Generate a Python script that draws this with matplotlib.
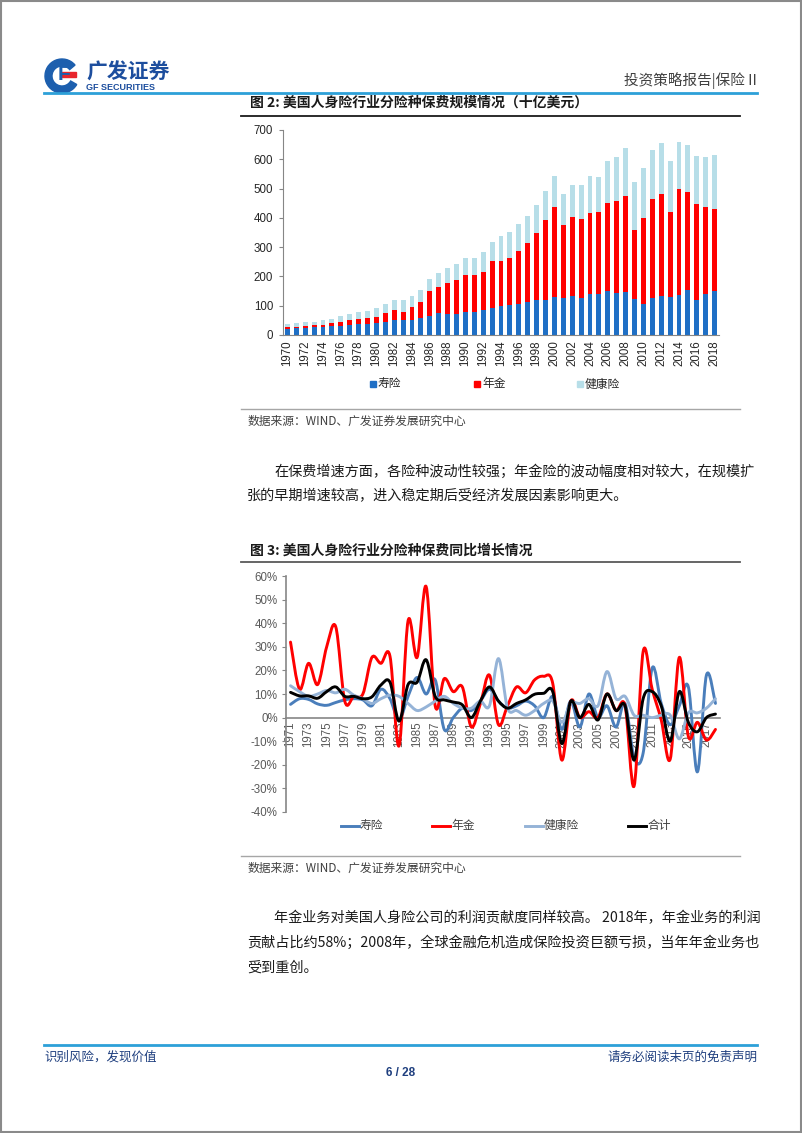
import numpy as np
import matplotlib
matplotlib.use('Agg')
import matplotlib.pyplot as plt
from matplotlib.path import Path
from matplotlib.patches import PathPatch, Rectangle, Wedge
from matplotlib.lines import Line2D

plt.rcParams['font.family'] = ['Noto Sans CJK SC', 'DejaVu Sans']

# ---- data: chart 1 (billion USD) ----
bar_years = list(range(1970, 2019))
life = [22, 23, 25, 26, 28, 30, 32, 34, 36, 38,
        40, 45, 50, 50, 52, 57, 66, 76, 72, 73,
        77, 78, 84, 93, 99, 102, 107, 114, 119, 120,
        131, 125, 133, 127, 139, 140, 149, 142, 147, 124,
        106, 127, 134, 130, 137, 155, 120, 140, 149]
annuity = [5, 6, 6, 7, 7, 10, 13, 16, 18, 20,
           23, 29, 35, 30, 42, 56, 84, 89, 105, 115,
           128, 126, 132, 158, 152, 160, 180, 199, 231, 272,
           307, 252, 271, 270, 278, 280, 303, 315, 329, 234,
           293, 336, 349, 289, 363, 334, 327, 296, 281]
health = [10, 11, 12, 13, 15, 16, 19, 20, 23, 25,
          28, 31, 35, 38, 39, 42, 42, 47, 51, 55,
          59, 59, 66, 68, 87, 88, 93, 92, 93, 98,
          105, 103, 108, 115, 126, 118, 141, 150, 164, 164,
          171, 170, 173, 174, 158, 159, 163, 171, 184]
bar_labels = ['寿险', '年金', '健康险']

# ---- data: chart 2 (yoy growth, %) ----
line_years = list(range(1971, 2019))
life_g = [5.6, 8, 7.7, 5.8, 5.2, 6.4, 7.5, 8, 7.5, 5,
          12, 8, -1, 9, 17, 10, 16, -5, 0, 4,
          3, 7, 12, 7, 4, 5, 7, 5, 0, 9,
          -5, 7, -4, 10, 0, 5, -4, 6, -17, -15,
          21, 6, -3, 5, 13, -23, 18, 6]
annuity_g = [32, 12, 23, 14, 30, 38.5, 7, 9, 10, 25.5,
             23, 26, -12, 41, 25.5, 55.5, 5, 16.5, 11, 13,
             -4, 6, 18, -3, 5, 13, 10.5, 16, 17.5, 14.5,
             -18, 7, 0, 2.5, 0, 10, 3, 5, -29, 28,
             12, -1, -17.5, 25.5, -8, -2, -9.5, -5]
health_g = [13.5, 11, 9, 10, 11.5, 10.5, 12, 9.5, 8, 6,
            8, 9.5, 9, 6, 3, 4.5, 7, 9, 6, 4,
            4, 7, 5, 25, 4, 3, 1, 3, 6, 7,
            -2, 6, 6, 8, 5, 19.5, 8, 9, 1, 1,
            0, 1, 1, -9, 2, 2, 4, 8]
total_g = [10.7, 9.2, 9.2, 8.2, 11, 13, 9, 9, 8, 8.8,
           13.8, 15, -1.5, 14, 15, 24.5, 9, 7.5, 6.6, 5.4,
           0, 7, 13, 7, 4, 6, 7.5, 9.9, 10.3, 11,
           -11, 7, 0, 5.6, -1, 10, 3, 5, -18, 8,
           11, 5, -10, 11, -2, -6, 0, 1.5]
line_labels = ['寿险', '年金', '健康险', '合计']

W, H = 802, 1133


def fx(x):
    return x / W


def fy(y):
    return 1 - y / H


def smooth_path(xs, ys):
    # excel-like smoothed line: catmull-rom as cubic bezier
    pts = np.column_stack([xs, ys]).astype(float)
    n = len(pts)
    verts = [pts[0]]
    codes = [Path.MOVETO]
    for i in range(n - 1):
        p0 = pts[i - 1] if i > 0 else pts[i]
        p1, p2 = pts[i], pts[i + 1]
        p3 = pts[i + 2] if i + 2 < n else pts[i + 1]
        verts += [p1 + (p2 - p0) / 6, p2 - (p3 - p1) / 6, p2]
        codes += [Path.CURVE4] * 3
    return Path(verts, codes)


fig = plt.figure(figsize=(8.02, 11.33), dpi=100)
fig.patch.set_facecolor('white')

# page border
fig.add_artist(Rectangle((0.001, 0.001), 0.998, 0.998, transform=fig.transFigure,
                         fill=False, ec='#8a8a8a', lw=1.5))


def hline(y, x0, x1, color, lw):
    fig.add_artist(Line2D([fx(x0), fx(x1)], [fy(y), fy(y)], color=color, lw=lw,
                          transform=fig.transFigure))


def txt(x, y, s, **kw):
    fig.text(fx(x), fy(y), s, **kw)


# ---- header ----
ax_logo = fig.add_axes([fx(43), fy(94), 38 / W, 38 / H])
ax_logo.set_xlim(0, 38)
ax_logo.set_ylim(0, 38)
ax_logo.axis('off')
ax_logo.add_patch(Wedge((19, 18), 17, 40, 330, width=7, color='#1d5fae'))
ax_logo.add_patch(Rectangle((19, 17), 14, 5, color='#e8262d'))
ax_logo.text(21, 20, 'F', fontsize=15, fontweight='bold', color='#1d5fae',
             ha='center', va='center', family='Liberation Sans')
txt(86, 72, '广发证券', fontsize=15, fontweight='bold', color='#1d4e9e', va='center')
txt(86, 88, 'GF SECURITIES', fontsize=6.5, fontweight='bold', color='#1d4e9e',
    va='center', family='Liberation Sans')
txt(757, 81, '投资策略报告|保险 II', fontsize=10.5, color='#404040', ha='right', va='center')
hline(93, 44, 757, '#2da0d8', 2)

# ---- figure 2 title ----
txt(250, 103, '图 2: 美国人身险行业分险种保费规模情况（十亿美元）', fontsize=10,
    fontweight='bold', color='#1a1a1a', va='center')
hline(116, 241, 740, '#1a1a1a', 1.3)

# ---- bar chart ----
ax1 = fig.add_axes([fx(283), fy(335), (719 - 283) / W, (335 - 130) / H])
idx = np.arange(len(bar_years))
life_a = np.array(life)
ann_a = np.array(annuity)
hea_a = np.array(health)
bar_colors = ['#1f6fc5', '#ff0000', '#b7dee8']
ax1.bar(idx, life_a, width=0.55, color=bar_colors[0])
ax1.bar(idx, ann_a, width=0.55, bottom=life_a, color=bar_colors[1])
ax1.bar(idx, hea_a, width=0.55, bottom=life_a + ann_a, color=bar_colors[2])
ax1.set_xlim(-0.5, len(bar_years) - 0.5)
ax1.set_ylim(0, 700)
ax1.set_yticks(range(0, 701, 100))
ax1.set_xticks(idx[::2])
ax1.set_xticklabels([str(y) for y in bar_years[::2]], rotation=90)
ax1.tick_params(axis='both', labelsize=8.3, labelcolor='#262626', labelfontfamily='Liberation Sans')
ax1.tick_params(axis='x', length=0, pad=4)
ax1.tick_params(axis='y', length=3, color='#868686', pad=4)
for s in ['top', 'right']:
    ax1.spines[s].set_visible(False)
for s in ['left', 'bottom']:
    ax1.spines[s].set_color('#868686')

# bar legend
for (x, lab, c) in [(370, bar_labels[0], bar_colors[0]), (474, bar_labels[1], bar_colors[1]),
                    (577, bar_labels[2], bar_colors[2])]:
    fig.add_artist(Rectangle((fx(x), fy(387)), 6 / W, 6 / H, color=c, transform=fig.transFigure))
    txt(x + 8, 384, lab, fontsize=8.5, color='#262626', va='center')

hline(409, 241, 740, '#a6a6a6', 1)
txt(248, 421, '数据来源：WIND、广发证券发展研究中心', fontsize=8.5, color='#404040', va='center')

# ---- paragraph 1 ----
body = dict(fontsize=10.2, color='#1a1a1a', va='center')
txt(274, 472, '在保费增速方面，各险种波动性较强；年金险的波动幅度相对较大，在规模扩', **body)
txt(247, 496, '张的早期增速较高，进入稳定期后受经济发展因素影响更大。', **body)

# ---- figure 3 title ----
txt(250, 551, '图 3: 美国人身险行业分险种保费同比增长情况', fontsize=10,
    fontweight='bold', color='#1a1a1a', va='center')
hline(562, 241, 740, '#595959', 1.3)

# ---- line chart ----
ax2 = fig.add_axes([fx(286), fy(812), (720 - 286) / W, (812 - 576) / H])
ax2.spines['bottom'].set_position(('data', 0))
lx = np.arange(len(line_years))
line_colors = ['#4a7ebb', '#ff0000', '#95b3d7', '#000000']
for ys, c in zip([life_g, annuity_g, health_g, total_g], line_colors):
    ax2.add_patch(PathPatch(smooth_path(lx, ys), fc='none', ec=c, lw=2.1,
                            capstyle='round', joinstyle='round', zorder=3))
ax2.set_xlim(-0.5, len(line_years) - 0.5)
ax2.set_ylim(-40, 60)
ax2.set_yticks(range(-40, 61, 10))
ax2.set_yticklabels([f'{v}%' for v in range(-40, 61, 10)])
ax2.set_xticks(lx[::2])
ax2.set_xticklabels([str(y) for y in line_years[::2]], rotation=90)
ax2.tick_params(axis='both', labelsize=8.3, labelcolor='#595959', labelfontfamily='Liberation Sans')
ax2.tick_params(axis='x', length=0, pad=3)
ax2.tick_params(axis='y', length=3, color='#868686', pad=3)
for s in ['top', 'right']:
    ax2.spines[s].set_visible(False)
for s in ['left', 'bottom']:
    ax2.spines[s].set_color('#868686')
    ax2.spines[s].set_linewidth(1.2)

# line legend
for (x, lab, c) in zip([341, 432, 525, 628], line_labels, line_colors):
    fig.add_artist(Line2D([fx(x), fx(x + 18)], [fy(826), fy(826)], color=c, lw=2.1,
                          transform=fig.transFigure))
    txt(x + 19, 825, lab, fontsize=8.5, color='#404040', va='center')

hline(856, 241, 740, '#a6a6a6', 1)
txt(248, 868, '数据来源：WIND、广发证券发展研究中心', fontsize=8.5, color='#404040', va='center')

# ---- paragraph 2 ----
txt(274, 918, '年金业务对美国人身险公司的利润贡献度同样较高。 2018年，年金业务的利润', **body)
txt(247, 943, '贡献占比约58%；2008年，全球金融危机造成保险投资巨额亏损，当年年金业务也', **body)
txt(247, 968, '受到重创。', **body)

# ---- footer ----
hline(1045, 44, 757, '#2da0d8', 2)
txt(44, 1057, '识别风险，发现价值', fontsize=9, color='#1f3f7f', va='center')
txt(757, 1057, '请务必阅读末页的免责声明', fontsize=9, color='#1f3f7f', va='center', ha='right')
txt(401, 1073, '6 / 28', fontsize=8.5, fontweight='bold', color='#1f3f7f', va='center',
    ha='center', family='Liberation Sans')

fig.savefig('out.png', dpi=100, facecolor='white')
